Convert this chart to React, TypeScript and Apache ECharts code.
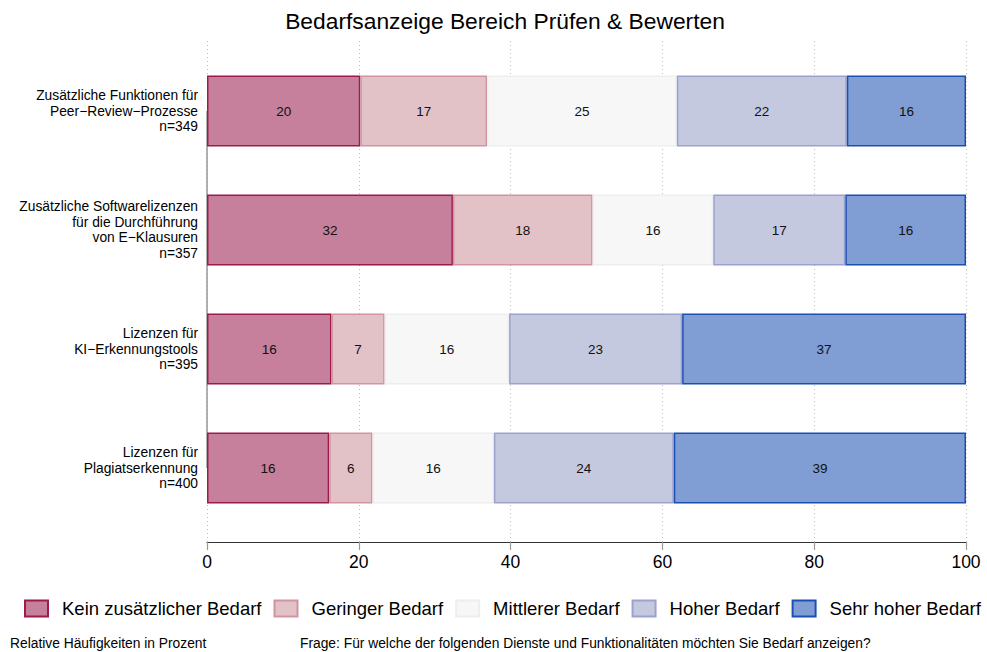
import React, { useEffect, useRef } from "react";
import * as echarts from "echarts";

const categories = [
  "Zusätzliche Funktionen für\nPeer−Review−Prozesse\nn=349",
  "Zusätzliche Softwarelizenzen\nfür die Durchführung\nvon E−Klausuren\nn=357",
  "Lizenzen für\nKI−Erkennungstools\nn=395",
  "Lizenzen für\nPlagiatserkennung\nn=400",
];

const seriesNames = [
  "Kein zusätzlicher Bedarf",
  "Geringer Bedarf",
  "Mittlerer Bedarf",
  "Hoher Bedarf",
  "Sehr hoher Bedarf",
];

const keinBedarf = [20.2, 32.4, 16.4, 16.1];
const geringerBedarf = [16.7, 18.4, 7.0, 5.7];
const mittlererBedarf = [25.0, 15.9, 16.4, 16.0];
const hoherBedarf = [22.4, 17.4, 22.8, 23.7];
const sehrHoherBedarf = [15.7, 15.9, 37.4, 38.5];

const xTicks = [0, 20, 40, 60, 80, 100];

const fills = ["#C6809B", "#E2C1C7", "#F7F7F7", "#C5C9E0", "#809ED3"];
const borders = ["#9E1A4A", "#CF95A0", "#EEEEEE", "#9BA2CD", "#1D4FB2"];

const FONT = "Liberation Sans, Arial, Helvetica, sans-serif";

export default function App() {
  const ref = useRef<HTMLDivElement>(null);
  useEffect(() => {
    if (!ref.current) return;
    const chart = echarts.init(ref.current, undefined, { renderer: "svg" });
    const values = [keinBedarf, geringerBedarf, mittlererBedarf, hoherBedarf, sehrHoherBedarf];
    const series: any[] = values.map((data, i) => ({
      name: seriesNames[i],
      type: "bar",
      stack: "total",
      xAxisIndex: 0,
      yAxisIndex: 0,
      barWidth: 71,
      data,
      itemStyle: { color: fills[i], borderColor: borders[i], borderWidth: 1.5 },
      label: {
        show: true,
        position: "inside",
        color: "#111",
        fontSize: 13.5,
        fontFamily: FONT,
        formatter: (p: any) => String(Math.round(p.value)),
      },
      z: 3,
    }));
    series[0].markLine = {
      silent: true,
      symbol: "none",
      label: { show: false },
      lineStyle: { color: "#999", width: 1.5, type: "solid" },
      data: [[{ coord: [0, categories[0]] }, { coord: [0, categories[3]] }]],
      z: 1,
    };
    chart.setOption({
      animation: false,
      backgroundColor: "#fff",
      title: {
        text: "Bedarfsanzeige Bereich Prüfen & Bewerten",
        left: 500,
        textAlign: "center",
        top: 4,
        textStyle: { fontSize: 22.8, fontWeight: "normal", color: "#000", fontFamily: FONT },
      },
      legend: {
        data: seriesNames,
        left: 19,
        top: 594,
        icon: "rect",
        itemWidth: 23,
        itemHeight: 16,
        itemGap: 12,
        textStyle: { fontSize: 18.5, color: "#000", fontFamily: FONT, padding: [0, 0, 0, 9] },
      },
      graphic: [
        {
          type: "text",
          left: 10,
          top: 636,
          style: { text: "Relative Häufigkeiten in Prozent", fontSize: 13.8, fill: "#000", fontFamily: FONT },
        },
        {
          type: "text",
          left: 300,
          top: 636,
          style: {
            text: "Frage: Für welche der folgenden Dienste und Funktionalitäten möchten Sie Bedarf anzeigen?",
            fontSize: 13.8,
            fill: "#000",
            fontFamily: FONT,
          },
        },
      ],
      grid: [
        { left: 207, right: 21, top: 51.5, height: 476, containLabel: false },
        { left: 207, right: 21, top: 41, height: 501, containLabel: false },
      ],
      xAxis: [
        { type: "value", gridIndex: 0, min: 0, max: 100, interval: 20, show: false },
        {
          type: "value",
          gridIndex: 1,
          min: xTicks[0],
          max: xTicks[xTicks.length - 1],
          interval: 20,
          axisLine: { show: true, lineStyle: { color: "#333", width: 1.2 } },
          axisTick: { show: true, length: 8, lineStyle: { color: "#999", width: 1.2 } },
          axisLabel: { fontSize: 17.5, color: "#000", margin: 11, fontFamily: FONT },
          splitLine: { show: true, lineStyle: { color: "#BBBBBB", type: [1, 3], width: 1 } },
        },
      ],
      yAxis: [
        {
          type: "category",
          gridIndex: 0,
          data: categories,
          inverse: true,
          axisLine: { show: false },
          axisTick: { show: false },
          axisLabel: {
            fontSize: 13.8,
            lineHeight: 15.5,
            color: "#000",
            margin: 9,
            align: "right",
            fontFamily: FONT,
          },
        },
        { type: "value", gridIndex: 1, show: false, min: 0, max: 1 },
      ],
      series,
    });
    return () => chart.dispose();
  }, []);
  return <div ref={ref} style={{ width: 987, height: 652, position: "absolute", left: 0, top: 0 }} />;
}
